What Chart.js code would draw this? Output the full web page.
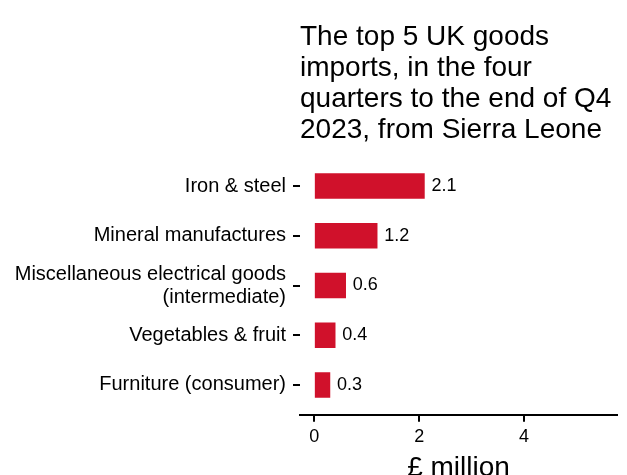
<!DOCTYPE html>
<html>
<head>
<meta charset="utf-8">
<script src="https://cdn.jsdelivr.net/npm/chart.js@4.4.1/dist/chart.umd.min.js"></script>
<style>
  html, body { margin: 0; padding: 0; background: #fff; }
  #wrap { width: 627px; height: 475px; }
</style>
</head>
<body>
<div id="wrap"><canvas id="chart" width="627" height="475"></canvas></div>
<script>
/* data */
const categories = [
    "Iron & steel",
    "Mineral manufactures",
    ["Miscellaneous electrical goods", "(intermediate)"],
    "Vegetables & fruit",
    "Furniture (consumer)"
];
const importValues = [2.1, 1.2, 0.6, 0.4, 0.3];
const valueLabels = ["2.1", "1.2", "0.6", "0.4", "0.3"];
const xTicks = [0, 2, 4];
const titleLines = [
    "The top 5 UK goods",
    "imports, in the four",
    "quarters to the end of Q4",
    "2023, from Sierra Leone"
];

const FONT = "'Liberation Sans', Arial, sans-serif";
const INK = "#000";
const BAR = "#d0112b";

// labels to the right of each bar
const valueLabelPlugin = {
    id: "valueLabels",
    afterDatasetsDraw(chart) {
        const ctx = chart.ctx;
        const meta = chart.getDatasetMeta(0);
        ctx.save();
        ctx.font = "18px " + FONT;
        ctx.fillStyle = INK;
        ctx.textAlign = "left";
        ctx.textBaseline = "middle";
        meta.data.forEach((bar, i) => {
            ctx.fillText(valueLabels[i], bar.x + 7, bar.y);
        });
        ctx.restore();
    }
};

new Chart(document.getElementById("chart").getContext("2d"), {
    type: "bar",
    data: {
        labels: categories,
        datasets: [{
            data: importValues,
            backgroundColor: BAR,
            borderWidth: 0,
            barThickness: 25
        }]
    },
    options: {
        indexAxis: "y",
        responsive: false,
        animation: false,
        layout: { padding: { left: 0, right: 10, top: 0, bottom: -10 } },
        plugins: {
            legend: { display: false },
            tooltip: { enabled: false },
            title: {
                display: true,
                text: titleLines,
                align: "start",
                fullSize: false,
                color: INK,
                font: { family: FONT, size: 28, weight: "normal", lineHeight: 1.1 },
                padding: { top: 22, bottom: 11 }
            }
        },
        scales: {
            x: {
                type: "linear",
                min: -0.27,
                max: 5.77,
                afterBuildTicks: scale => { scale.ticks = xTicks.map(v => ({ value: v })); },
                grid: { display: true, drawOnChartArea: false, drawTicks: true, tickLength: 7, color: INK, lineWidth: 2 },
                border: { display: true, color: INK, width: 2 },
                ticks: { color: INK, padding: 4, font: { family: FONT, size: 18 } },
                title: {
                    display: true,
                    text: "£ million",
                    color: INK,
                    font: { family: FONT, size: 28 },
                    padding: { top: 0, bottom: 0 }
                }
            },
            y: {
                offset: false,
                afterFit: scale => { scale.width = 300; },
                // ggplot-style discrete expansion: 0.6 of a band on each side
                afterBuildTicks: scale => {
                    scale._startValue = -0.6;
                    scale._valueRange = categories.length - 1 + 1.2;
                },
                grid: { display: true, offset: false, drawOnChartArea: false, drawTicks: true, tickLength: 7, color: INK, lineWidth: 2 },
                border: { display: false },
                ticks: { color: INK, padding: 7, font: { family: FONT, size: 20, lineHeight: 1.15 } }
            }
        }
    },
    plugins: [valueLabelPlugin]
});
</script>
</body>
</html>
